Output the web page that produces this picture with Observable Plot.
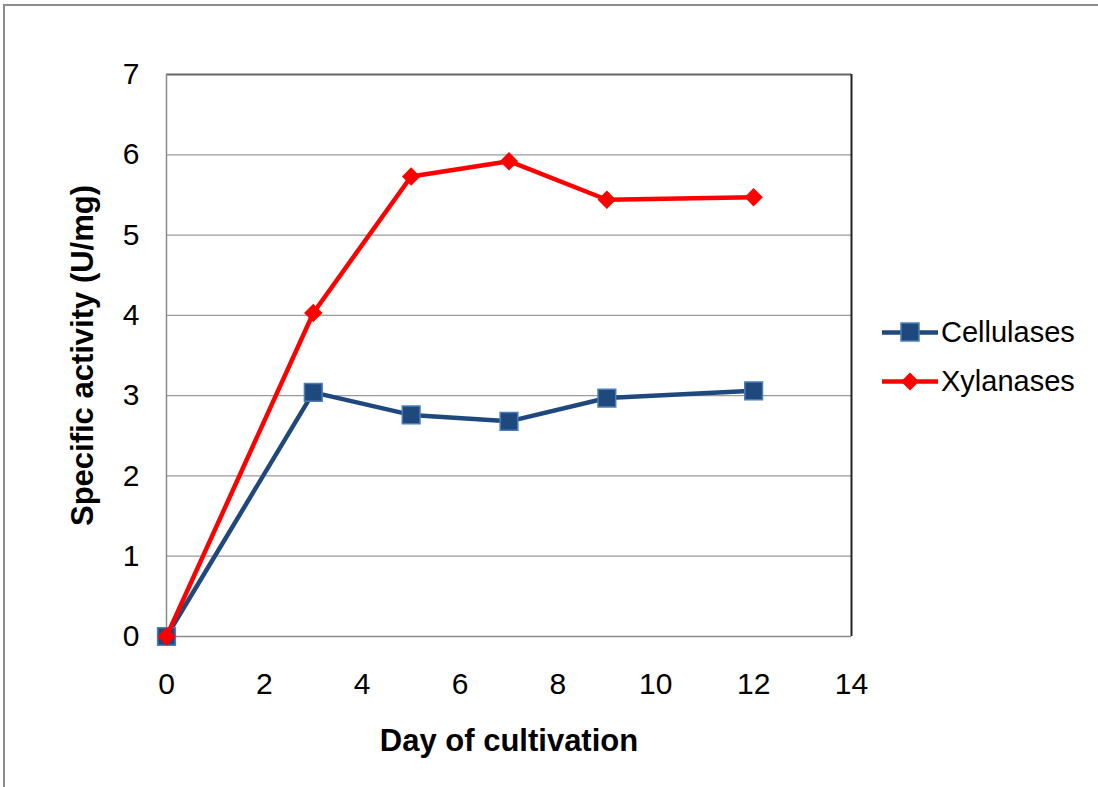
<!DOCTYPE html>
<html>
<head>
<meta charset="utf-8">
<script src="https://cdn.jsdelivr.net/npm/d3@7"></script>
<script src="https://cdn.jsdelivr.net/npm/@observablehq/plot@0.6"></script>
<style>
  html, body { margin: 0; padding: 0; background: #fff; overflow: hidden; }
  #wrap { position: relative; width: 1098px; height: 787px; font-family: "Liberation Sans", Arial, sans-serif; }
  #border { position: absolute; left: 3px; top: 4px; width: 2000px; height: 2000px;
            border-left: 2px solid #8c8c8c; border-top: 2px solid #8c8c8c; pointer-events: none; }
  #legend { position: absolute; left: 882px; top: 308px; }
  .row { display: flex; align-items: center; height: 49px; }
  .row span { font-size: 29px; color: #000; margin-left: 3px; }
</style>
</head>
<body>
<div id="wrap">
  <div id="border"></div>
  <div id="chart"></div>
  <div id="legend"></div>
</div>
<script>
// Sampling days and specific activity (U/mg) of each enzyme
const days = [0, 3, 5, 7, 9, 12];
const cellulases = [0, 3.04, 2.76, 2.68, 2.97, 3.06];
const xylanases = [0, 4.03, 5.73, 5.92, 5.44, 5.47];

const seriesNames = ["Cellulases", "Xylanases"];
const seriesColors = ["#1F497D", "#FF0000"];
const xTicks = [0, 2, 4, 6, 8, 10, 12, 14];
const yTicks = [0, 1, 2, 3, 4, 5, 6, 7];

const cell = days.map((d, i) => ({day: d, value: cellulases[i], series: seriesNames[0]}));
const xyl = days.map((d, i) => ({day: d, value: xylanases[i], series: seriesNames[1]}));

const chart = Plot.plot({
  width: 1098,
  height: 787,
  marginLeft: 166,
  marginRight: 247,
  marginTop: 74,
  marginBottom: 151,
  style: {fontFamily: "'Liberation Sans', Arial, sans-serif", fontSize: "30px", color: "#000", background: "transparent"},
  x: {domain: [0, 14], label: null},
  y: {domain: [0, 7], label: null},
  marks: [
    Plot.gridY(yTicks, {stroke: "#9a9a9a", strokeOpacity: 1, strokeWidth: 1.2}),
    Plot.ruleY([7], {stroke: "#666", strokeWidth: 2}),
    Plot.ruleX([14], {stroke: "#222", strokeWidth: 2}),
    Plot.ruleX([0], {stroke: "#8a8a8a", strokeWidth: 1.5}),
    Plot.ruleY([0], {stroke: "#8a8a8a", strokeWidth: 1.5}),
    Plot.axisX({ticks: xTicks, tickFormat: "d", tickSize: 0, tickPadding: 36, label: null, fill: "#000", fontSize: 30}),
    Plot.axisY({ticks: yTicks, tickFormat: "d", tickSize: 0, tickPadding: 27, label: null, fill: "#000", fontSize: 30}),
    Plot.lineY(cell, {x: "day", y: "value", stroke: seriesColors[0], strokeWidth: 4.5}),
    Plot.dot(cell, {x: "day", y: "value", symbol: "square", r: 10, fill: seriesColors[0], stroke: "#4A7EBB", strokeWidth: 1.5}),
    Plot.lineY(xyl, {x: "day", y: "value", stroke: seriesColors[1], strokeWidth: 4.5}),
    Plot.dot(xyl, {x: "day", y: "value", symbol: "diamond2", r: 8.3, fill: seriesColors[1]}),
    Plot.text(["Day of cultivation"], {frameAnchor: "bottom", lineAnchor: "middle", textAnchor: "middle", dy: 105, fontSize: 31, fontWeight: "bold", fill: "#000"}),
    Plot.text(["Specific activity (U/mg)"], {frameAnchor: "left", lineAnchor: "middle", textAnchor: "middle", dx: -83, rotate: -90, fontSize: 31, fontWeight: "bold", fill: "#000"})
  ]
});
document.getElementById("chart").appendChild(chart);

// Legend: line + marker swatch followed by series name
const legend = document.getElementById("legend");
seriesNames.forEach((name, i) => {
  const row = document.createElement("div");
  row.className = "row";
  const ns = "http://www.w3.org/2000/svg";
  const sw = document.createElementNS(ns, "svg");
  sw.setAttribute("width", 56);
  sw.setAttribute("height", 49);
  const ln = document.createElementNS(ns, "line");
  ln.setAttribute("x1", 0); ln.setAttribute("x2", 56);
  ln.setAttribute("y1", 24.5); ln.setAttribute("y2", 24.5);
  ln.setAttribute("stroke", seriesColors[i]);
  ln.setAttribute("stroke-width", 4.5);
  sw.appendChild(ln);
  const mk = document.createElementNS(ns, "path");
  if (i === 0) {
    mk.setAttribute("d", "M19,15h18v18h-18z");
    mk.setAttribute("fill", seriesColors[0]);
    mk.setAttribute("stroke", "#4A7EBB");
    mk.setAttribute("stroke-width", 1.5);
  } else {
    mk.setAttribute("d", "M28,15.5L37,24.5L28,33.5L19,24.5Z");
    mk.setAttribute("fill", seriesColors[1]);
  }
  sw.appendChild(mk);
  row.appendChild(sw);
  const label = document.createElement("span");
  label.textContent = name;
  row.appendChild(label);
  legend.appendChild(row);
});
</script>
</body>
</html>
